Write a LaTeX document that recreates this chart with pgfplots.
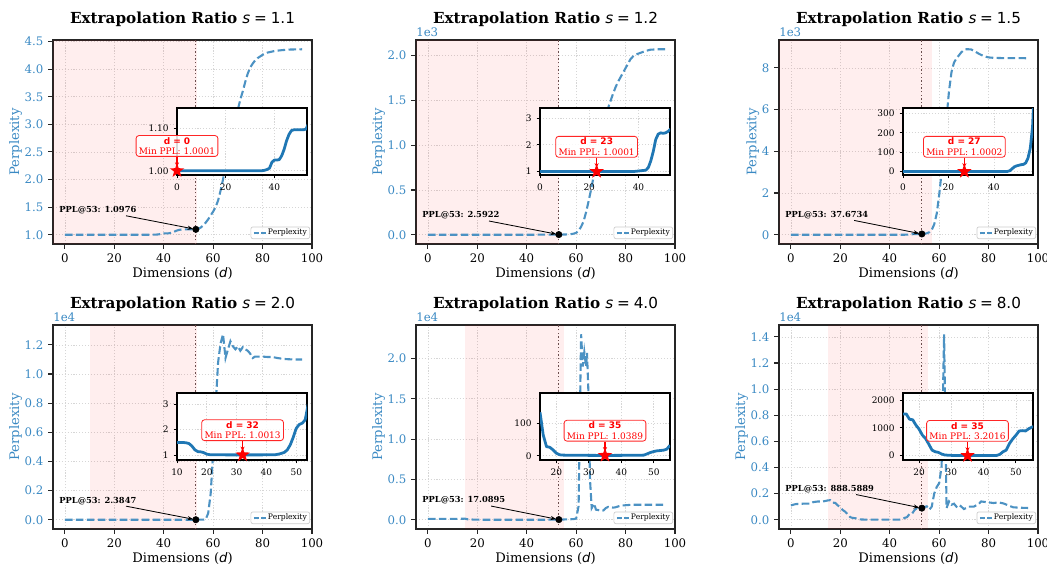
\documentclass[border=0pt]{standalone}
\usepackage{fontspec}
\setmainfont{DejaVu Serif}
\newfontfamily\dvs{DejaVu Sans}
\usepackage{pgfplots}
\pgfplotsset{compat=1.18}
\usetikzlibrary{arrows.meta}

\definecolor{tabblue}{HTML}{1F77B4}
\definecolor{labblue}{HTML}{3A89C3}
\definecolor{lineblue}{HTML}{4C92C3}
\definecolor{spine}{HTML}{262626}
\definecolor{vline}{HTML}{6B4E4E}

% filled five-point star, like matplotlib's '*'
\pgfdeclareplotmark{fstar}{%
  \pgfpathmoveto{\pgfpointpolar{90}{\pgfplotmarksize}}%
  \pgfpathlineto{\pgfpointpolar{126}{0.4\pgfplotmarksize}}%
  \pgfpathlineto{\pgfpointpolar{162}{\pgfplotmarksize}}%
  \pgfpathlineto{\pgfpointpolar{198}{0.4\pgfplotmarksize}}%
  \pgfpathlineto{\pgfpointpolar{234}{\pgfplotmarksize}}%
  \pgfpathlineto{\pgfpointpolar{270}{0.4\pgfplotmarksize}}%
  \pgfpathlineto{\pgfpointpolar{306}{\pgfplotmarksize}}%
  \pgfpathlineto{\pgfpointpolar{342}{0.4\pgfplotmarksize}}%
  \pgfpathlineto{\pgfpointpolar{18}{\pgfplotmarksize}}%
  \pgfpathlineto{\pgfpointpolar{54}{0.4\pgfplotmarksize}}%
  \pgfpathclose
  \pgfusepathqfill}

\newcommand\ttl[1]{Extrapolation Ratio {\dvs\mdseries\itshape s}\hspace{0.25em}{\dvs\mdseries =}\hspace{0.25em}{\dvs\mdseries #1}}

\pgfplotsset{
  mainax/.style={
    scale only axis, width=186.48bp, height=146.88bp, anchor=south west,
    xmin=-4.8, xmax=100, xtick={0,20,...,100},
    scaled y ticks=false, scaled x ticks=false,
    tick pos=left, tick align=outside, major tick length=3.5bp,
    axis line style={spine, line width=0.9bp},
    tick style={spine, line width=0.8bp},
    grid=major, grid style={black!16, line width=0.5bp, dash pattern=on 0.8bp off 1.3bp},
    tick label style={font=\fontsize{8.5}{10}\selectfont},
    yticklabel style={text=labblue},
    xlabel={Dimensions ({\dvs\itshape d})},
    ylabel={Perplexity},
    label style={font=\fontsize{9.5}{11}\selectfont},
    ylabel style={text=labblue},
    xlabel shift=-3.5bp, ylabel shift=-5bp,
    every axis title shift=0pt,
    title style={font=\bfseries\fontsize{11}{13}\selectfont, at={(0.5,1)}, anchor=base, yshift=11.8bp},
    clip mode=individual,
    /pgf/number format/assume math mode=true,
    /pgf/number format/1000 sep={},
    legend style={at={(1,0)}, anchor=south east, xshift=-1.4bp, yshift=3.6bp,
      font=\fontsize{5.5}{6}\selectfont, draw=black!20, line width=0.5bp,
      fill=white, fill opacity=0.8, text opacity=1, draw opacity=1,
      rounded corners=1.5bp, inner xsep=1.5bp, inner ysep=0.8bp, nodes={inner sep=0.6bp}},
    legend image code/.code={\draw[lineblue, line width=1.2bp, dash pattern=on 3.5bp off 1.5bp] (0bp,0bp) -- (9bp,0bp);},
  },
  inax/.style={
    scale only axis, width=93.6bp, height=48.24bp, anchor=south west,
    scaled y ticks=false, scaled x ticks=false,
    axis background/.style={fill=white},
    tick pos=left, tick align=outside, major tick length=2.5bp,
    axis line style={black, line width=0.8bp},
    tick style={black, line width=0.6bp},
    grid=major, grid style={black!16, line width=0.5bp, dash pattern=on 0.8bp off 1.3bp},
    tick label style={font=\fontsize{6.5}{7}\selectfont},
    clip mode=individual,
    /pgf/number format/assume math mode=true,
    /pgf/number format/1000 sep={},
  },
  mainline/.style={lineblue, line width=1.5bp, dash pattern=on 5.5bp off 2.4bp},
  inline/.style={tabblue, line width=2bp, line join=round},
  dot/.style={only marks, mark=*, mark size=2.3bp, black, forget plot},
  minstar/.style={only marks, mark=fstar, mark size=5.5bp, red, forget plot},
}
\tikzset{
  shade/.style={fill=red, fill opacity=0.065, draw=none},
  vl/.style={vline, line width=0.9bp, dash pattern=on 1bp off 1.6bp},
  ann/.style={anchor=west, xshift=-99.4bp, yshift=13.7bp, inner sep=1bp,
    font=\bfseries\fontsize{6}{7}\selectfont},
  annarrow/.style={-{Stealth[length=4bp,width=3bp]}, black, line width=0.6bp, shorten >=2bp},
  minbox/.style={draw=red!85, line width=0.6bp, fill=white, fill opacity=0.85, text opacity=1,
    rounded corners=2bp, align=center, anchor=south, yshift=10bp, inner xsep=2bp, inner ysep=1.2bp,
    text=red, font=\fontsize{6.5}{7.6}\selectfont},
  minarrow/.style={red, line width=0.9bp, -{Stealth[length=3bp,width=3bp]}, shorten >=3bp},
  sci/.style={anchor=south west, inner sep=0pt, text=labblue, yshift=2.2bp, font=\fontsize{8.5}{10}\selectfont},
}

\begin{document}
\begin{tikzpicture}
\useasboundingbox (0bp,0bp) rectangle (753.84bp,-405.36bp);

% ---------------- s = 1.1 ----------------
\begin{axis}[mainax, at={(38.16bp,-175.68bp)}, ymin=0.832, ymax=4.528,
  ytick={1,1.5,2,2.5,3,3.5,4,4.5}, yticklabels={1.0,1.5,2.0,2.5,3.0,3.5,4.0,4.5},
  title={\ttl{1.1}}]
\fill[shade] (axis cs:-4.8,0.832) rectangle (axis cs:53.4,4.528);
\addplot[mainline] coordinates {
(0,1.0001)(5,1.0001)(10,1.0001)(15,1.0001)(20,1.0001)(25,1.0001)(30,1.0001)(35,1.0002)
(36,1.001)(37,1.003)(38,1.006)(39,1.02)(40,1.025)(41,1.025)(42,1.026)(43,1.035)(44,1.05)
(45,1.07)(46,1.085)(47,1.094)(48,1.096)(50,1.096)(52,1.096)(53,1.0976)(54,1.11)(55,1.13)
(56,1.17)(57,1.22)(58,1.28)(59,1.35)(60,1.42)(61,1.5)(62,1.62)(63,1.8)(64,2.0)(65,2.25)
(66,2.5)(67,2.72)(68,2.92)(69,3.1)(70,3.27)(71,3.45)(72,3.6)(73,3.77)(74,3.92)(75,4.03)
(76,4.1)(77,4.16)(78,4.2)(80,4.26)(82,4.3)(85,4.33)(88,4.345)(91,4.355)(96,4.36)};
\addlegendentry{Perplexity}
\draw[vl] (axis cs:53,0.832) -- (axis cs:53,4.528);
\addplot[dot] coordinates {(53,1.0976)};
\node[ann] (a1) at (axis cs:53,1.0976) {PPL@53: 1.0976};
\draw[annarrow] (a1) -- (axis cs:53,1.0976);
\end{axis}
\begin{axis}[inax, at={(127.44bp,-126bp)}, xmin=0, xmax=53.4, ymin=0.99, ymax=1.147,
  xtick={0,20,40}, ytick={1.0,1.1}, yticklabels={1.00,1.10}]
\addplot[inline] coordinates {
(0,1.0001)(10,1.0001)(20,1.0001)(30,1.0001)(35,1.0002)(36,1.001)(37,1.003)(38,1.006)
(39,1.02)(40,1.025)(41,1.025)(42,1.026)(43,1.035)(44,1.05)(45,1.07)(46,1.085)(47,1.094)
(48,1.096)(50,1.096)(52,1.096)(53,1.0976)(54,1.11)};
\addplot[minstar] coordinates {(0,1.0001)};
\node[minbox] (b1) at (axis cs:0,1.0001) {{\dvs\bfseries d = 0}\\Min PPL: 1.0001};
\draw[minarrow] (b1.south) -- (axis cs:0,1.0001);
\end{axis}

% ---------------- s = 1.2 ----------------
\begin{axis}[mainax, at={(299.52bp,-175.68bp)}, ymin=-102.5, ymax=2173.5,
  ytick={0,500,1000,1500,2000}, yticklabels={0.0,0.5,1.0,1.5,2.0},
  title={\ttl{1.2}}]
\fill[shade] (axis cs:-4.8,-102.5) rectangle (axis cs:53,2173.5);
\addplot[mainline] coordinates {
(0,1.0001)(10,1.0001)(20,1.0001)(23,1.0001)(30,1.0001)(38,1.0)(40,1.02)(42,1.04)(43,1.05)
(44,1.15)(45,1.4)(46,1.75)(47,2.2)(48,2.4)(49,2.45)(50,2.43)(51,2.45)(52,2.5)(53,2.5922)
(54,2.8)(55,3.2)(56,4)(57,5)(58,8)(59,13)(60,22)(61,45)(62,90)(63,150)(64,250)(65,370)
(66,500)(67,640)(68,800)(69,960)(70,1100)(71,1230)(72,1340)(73,1420)(74,1500)(75,1580)
(76,1650)(77,1710)(78,1760)(79,1810)(80,1860)(81,1910)(82,1960)(83,1990)(84,2010)
(85,2020)(86,2030)(88,2050)(90,2065)(93,2070)(96,2070)};
\addlegendentry{Perplexity}
\draw[vl] (axis cs:53,-102.5) -- (axis cs:53,2173.5);
\addplot[dot] coordinates {(53,2.5922)};
\node[ann] (a2) at (axis cs:53,2.5922) {PPL@53: 2.5922};
\draw[annarrow] (a2) -- (axis cs:53,2.5922);
\node[sci] at (rel axis cs:0,1) {1e3};
\end{axis}
\begin{axis}[inax, at={(388.8bp,-126bp)}, xmin=0, xmax=52.8, ymin=0.87, ymax=3.38,
  xtick={0,20,40}, ytick={1,2,3}]
\addplot[inline] coordinates {
(0,1.0001)(10,1.0001)(20,1.0001)(23,1.0001)(30,1.0001)(38,1.0)(40,1.02)(42,1.04)(43,1.05)
(44,1.15)(45,1.4)(46,1.75)(47,2.2)(48,2.4)(49,2.45)(50,2.43)(51,2.45)(52,2.5)(53,2.5922)};
\addplot[minstar] coordinates {(23,1.0001)};
\node[minbox] (b2) at (axis cs:23,1.0001) {{\dvs\bfseries d = 23}\\Min PPL: 1.0001};
\draw[minarrow] (b2.south) -- (axis cs:23,1.0001);
\end{axis}

% ---------------- s = 1.5 ----------------
\begin{axis}[mainax, at={(560.88bp,-175.68bp)}, ymin=-443.5, ymax=9334.5,
  ytick={0,2000,4000,6000,8000}, yticklabels={0,2,4,6,8},
  title={\ttl{1.5}}]
\fill[shade] (axis cs:-4.8,-443.5) rectangle (axis cs:57.2,9334.5);
\addplot[mainline] coordinates {
(0,1.0002)(10,1.0002)(20,1.0002)(27,1.0002)(35,1.0)(46,1.5)(47,5)(48,15)(49,25)(50,30)
(51,33)(52,36)(53,37.6734)(54,45)(55,70)(56,120)(57,230)(58,500)(59,1000)(60,1900)
(61,3000)(62,4200)(63,5600)(64,6900)(65,7800)(66,8250)(67,8450)(68,8600)(69,8750)
(70,8850)(71,8890)(72,8890)(73,8880)(74,8820)(75,8750)(76,8680)(77,8620)(78,8570)
(79,8530)(80,8500)(82,8480)(85,8470)(90,8470)(96,8460)};
\addlegendentry{Perplexity}
\draw[vl] (axis cs:53,-443.5) -- (axis cs:53,9334.5);
\addplot[dot] coordinates {(53,37.6734)};
\node[ann] (a3) at (axis cs:53,37.6734) {PPL@53: 37.6734};
\draw[annarrow] (a3) -- (axis cs:53,37.6734);
\node[sci] at (rel axis cs:0,1) {1e3};
\end{axis}
\begin{axis}[inax, at={(650.16bp,-126bp)}, xmin=0, xmax=57.2, ymin=-17, ymax=327,
  xtick={0,20,40}, ytick={0,100,200,300}]
\addplot[inline] coordinates {
(0,1.0002)(10,1.0002)(20,1.0002)(27,1.0002)(35,1.0)(46,1.5)(47,5)(48,15)(49,25)(50,30)
(51,33)(52,36)(53,37.6734)(54,45)(55,70)(56,120)(57,230)(58,500)};
\addplot[minstar] coordinates {(27,1.0002)};
\node[minbox] (b3) at (axis cs:27,1.0002) {{\dvs\bfseries d = 27}\\Min PPL: 1.0002};
\draw[minarrow] (b3.south) -- (axis cs:27,1.0002);
\end{axis}

% ---------------- s = 2.0 ----------------
\begin{axis}[mainax, at={(38.16bp,-380.88bp)}, ymin=-635, ymax=13366,
  ytick={0,2000,4000,6000,8000,10000,12000}, yticklabels={0.0,0.2,0.4,0.6,0.8,1.0,1.2},
  title={\ttl{2.0}}]
\fill[shade] (axis cs:10,-635) rectangle (axis cs:53.6,13366);
\addplot[mainline] coordinates {
(0,1.5)(5,1.5)(10,1.49)(12,1.49)(13,1.48)(14,1.45)(15,1.35)(16,1.2)(17,1.13)(18,1.12)
(19,1.09)(20,1.03)(21,1.01)(22,1.005)(25,1.003)(30,1.002)(32,1.0013)(35,1.002)(40,1.003)
(43,1.01)(44,1.03)(45,1.06)(46,1.1)(47,1.2)(48,1.4)(49,1.7)(50,2.05)(51,2.2)(52,2.25)
(53,2.3847)(54,3.0)(55,4.5)(56,9)(57,30)(58,450)(59,1800)(60,4600)(61,7800)(62,10800)
(63,12100)(64,12730)(65,11100)(66,11700)(67,12250)(68,11900)(69,11700)(70,11900)
(71,11600)(72,11850)(73,11700)(74,11600)(75,11400)(76,11100)(77,11200)(78,11200)
(80,11200)(82,11170)(84,11170)(86,11100)(88,11050)(90,11020)(93,11000)(96,11000)};
\addlegendentry{Perplexity}
\draw[vl] (axis cs:53,-635) -- (axis cs:53,13366);
\addplot[dot] coordinates {(53,2.3847)};
\node[ann] (a4) at (axis cs:53,2.3847) {PPL@53: 2.3847};
\draw[annarrow] (a4) -- (axis cs:53,2.3847);
\node[sci] at (rel axis cs:0,1) {1e4};
\end{axis}
\begin{axis}[inax, at={(127.44bp,-331.2bp)}, xmin=10, xmax=53.6, ymin=0.8, ymax=3.44,
  xtick={10,20,30,40,50}, ytick={1,2,3}]
\addplot[inline] coordinates {
(10,1.49)(12,1.49)(13,1.48)(14,1.45)(15,1.35)(16,1.2)(17,1.13)(18,1.12)(19,1.09)(20,1.03)
(21,1.01)(22,1.005)(25,1.003)(30,1.002)(32,1.0013)(35,1.002)(40,1.003)(43,1.01)(44,1.03)
(45,1.06)(46,1.1)(47,1.2)(48,1.4)(49,1.7)(50,2.05)(51,2.2)(52,2.25)(53,2.3847)(54,3.0)};
\addplot[minstar] coordinates {(32,1.0013)};
\node[minbox] (b4) at (axis cs:32,1.0013) {{\dvs\bfseries d = 32}\\Min PPL: 1.0013};
\draw[minarrow] (b4.south) -- (axis cs:32,1.0013);
\end{axis}

% ---------------- s = 4.0 ----------------
\begin{axis}[mainax, at={(299.52bp,-380.88bp)}, ymin=-1149, ymax=24150,
  ytick={0,5000,10000,15000,20000}, yticklabels={0.0,0.5,1.0,1.5,2.0},
  title={\ttl{4.0}}]
\fill[shade] (axis cs:15,-1149) rectangle (axis cs:55,24150);
\addplot[mainline] coordinates {
(0,100)(5,100)(10,110)(14,120)(15,133)(16,63)(17,28)(18,26)(19,18)(20,8)(21,3)(22,2)
(25,1.5)(30,1.2)(35,1.0389)(40,1.2)(45,1.5)(47,2)(48,6)(49,10)(50,13)(51,15)(52,16)
(53,17.0895)(54,20)(55,32)(56,45)(57,55)(58,65)(59,80)(60,150)(61,1700)(62,23000)
(62.7,19000)(63.3,20800)(64,19000)(64.4,20700)(65,15500)(65.6,5000)(66.3,1450)(67.3,2000)
(68,1250)(69,1200)(70,1100)(71,1150)(72,1450)(73,1600)(74,1550)(75,1500)(76,1550)
(77,1650)(78,1750)(80,1800)(82,1850)(85,1860)(90,1860)(96,1860)};
\addlegendentry{Perplexity}
\draw[vl] (axis cs:53,-1149) -- (axis cs:53,24150);
\addplot[dot] coordinates {(53,17.0895)};
\node[ann] (a5) at (axis cs:53,17.0895) {PPL@53: 17.0895};
\draw[annarrow] (a5) -- (axis cs:53,17.0895);
\node[sci] at (rel axis cs:0,1) {1e4};
\end{axis}
\begin{axis}[inax, at={(388.8bp,-331.2bp)}, xmin=15, xmax=55, ymin=-13, ymax=192,
  xtick={20,30,40,50}, ytick={0,100}]
\addplot[inline] coordinates {
(15,133)(16,63)(17,28)(18,26)(19,18)(20,8)(21,3)(22,2)(25,1.5)(30,1.2)(35,1.0389)(40,1.2)
(45,1.5)(47,2)(48,6)(49,10)(50,13)(51,15)(52,16)(53,17.0895)(54,20)(55,32)};
\addplot[minstar] coordinates {(35,1.0389)};
\node[minbox] (b5) at (axis cs:35,1.0389) {{\dvs\bfseries d = 35}\\Min PPL: 1.0389};
\draw[minarrow] (b5.south) -- (axis cs:35,1.0389);
\end{axis}

% ---------------- s = 8.0 ----------------
\begin{axis}[mainax, at={(560.88bp,-380.88bp)}, ymin=-709, ymax=14910,
  ytick={0,2000,4000,6000,8000,10000,12000,14000}, yticklabels={0.0,0.2,0.4,0.6,0.8,1.0,1.2,1.4},
  title={\ttl{8.0}}]
\fill[shade] (axis cs:15,-709) rectangle (axis cs:55.3,14910);
\addplot[mainline] coordinates {
(0,1100)(2,1200)(5,1230)(8,1230)(9,1350)(11,1400)(13,1400)(15,1480)(16,1500)(17,1310)
(18,1290)(19,1100)(20,950)(21,740)(22,615)(23,414)(24,200)(25,142)(26,118)(27,60)(28,25)
(30,12)(35,3.2016)(40,5)(44,10)(45,47)(46,142)(47,200)(48,437)(49,450)(50,734)(51,887)
(52,900)(53,888.5889)(54,970)(55,1029)(56,770)(57,1000)(58,2000)(59,2500)(60,2800)
(61,4100)(62,14200)(63,900)(64,1400)(65,1150)(66,1230)(67,1000)(68,1150)(69,1000)
(70,820)(71,900)(72,1000)(74,1000)(76,1200)(77,1400)(79,1350)(80,1330)(82,1280)
(84,1330)(86,1250)(88,1100)(90,950)(93,920)(96,900)};
\addlegendentry{Perplexity}
\draw[vl] (axis cs:53,-709) -- (axis cs:53,14910);
\addplot[dot] coordinates {(53,888.5889)};
\node[ann] (a6) at (axis cs:53,888.5889) {PPL@53: 888.5889};
\draw[annarrow] (a6) -- (axis cs:53,888.5889);
\node[sci] at (rel axis cs:0,1) {1e4};
\end{axis}
\begin{axis}[inax, at={(650.16bp,-331.2bp)}, xmin=15, xmax=55.3, ymin=-154, ymax=2250,
  xtick={20,30,40,50}, ytick={0,1000,2000}]
\addplot[inline] coordinates {
(15,1500)(16,1500)(17,1310)(18,1290)(19,1100)(20,950)(21,740)(22,615)(23,414)(24,200)
(25,142)(26,118)(27,60)(28,25)(30,12)(35,3.2016)(40,5)(44,10)(45,47)(46,142)(47,200)
(48,437)(49,600)(50,734)(51,887)(52,900)(53,888.5889)(54,970)(55,1029)(56,1060)};
\addplot[minstar] coordinates {(35,3.2016)};
\node[minbox] (b6) at (axis cs:35,3.2016) {{\dvs\bfseries d = 35}\\Min PPL: 3.2016};
\draw[minarrow] (b6.south) -- (axis cs:35,3.2016);
\end{axis}

\end{tikzpicture}
\end{document}
